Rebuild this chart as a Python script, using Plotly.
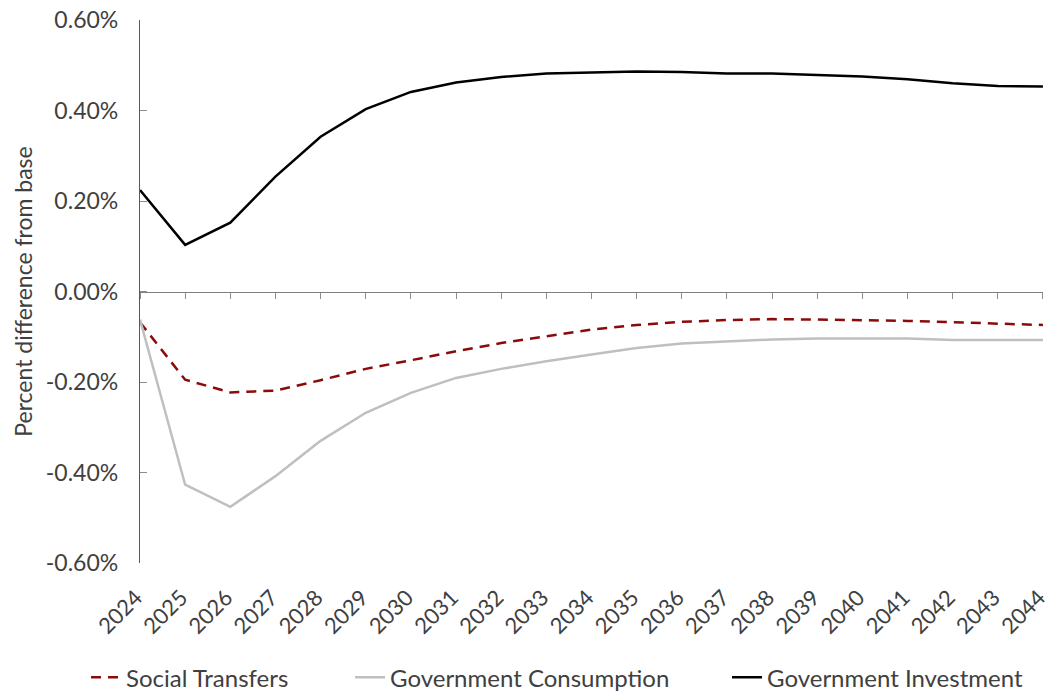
import plotly.graph_objects as go

years = list(range(2024, 2045))

social_transfers = [-0.068, -0.195, -0.223, -0.219, -0.196, -0.171, -0.152, -0.132,
                    -0.114, -0.099, -0.084, -0.074, -0.067, -0.063, -0.061, -0.062,
                    -0.063, -0.065, -0.068, -0.071, -0.074]
gov_consumption = [-0.062, -0.427, -0.476, -0.408, -0.330, -0.268, -0.224, -0.191,
                   -0.171, -0.154, -0.139, -0.125, -0.115, -0.110, -0.106, -0.104,
                   -0.104, -0.104, -0.107, -0.107, -0.107]
gov_investment = [0.224, 0.103, 0.152, 0.254, 0.342, 0.403, 0.441, 0.462,
                  0.474, 0.482, 0.484, 0.486, 0.485, 0.482, 0.482, 0.478,
                  0.475, 0.469, 0.460, 0.454, 0.453]

y_ticks = [0.6, 0.4, 0.2, 0.0, -0.2, -0.4, -0.6]
y_tick_text = ["0.60%", "0.40%", "0.20%", "0.00%", "-0.20%", "-0.40%", "-0.60%"]

FONT = "Lato, 'Open Sans', sans-serif"
TEXT = "#404040"
X_RANGE = [2024, 2044.001]


def legend_box(x_px):
    # one legend entry per box, placed along the bottom of the figure
    return dict(orientation="h", xref="container", yref="container",
                x=x_px / 1050, y=0.022, xanchor="left", yanchor="middle",
                font=dict(size=24, color=TEXT), bgcolor="rgba(0,0,0,0)")


fig = go.Figure()
fig.add_trace(go.Scatter(x=years, y=social_transfers, mode="lines", name="Social Transfers",
                         line=dict(color="#8B0A0A", width=2.5, dash="10px,7px"),
                         legend="legend"))
fig.add_trace(go.Scatter(x=years, y=gov_consumption, mode="lines", name="Government Consumption",
                         line=dict(color="#BFBFBF", width=2.5), legend="legend2"))
fig.add_trace(go.Scatter(x=years, y=gov_investment, mode="lines", name="Government Investment",
                         line=dict(color="#000000", width=2.5), xaxis="x2", legend="legend3"))

fig.update_layout(
    width=1050, height=693,
    paper_bgcolor="white", plot_bgcolor="white",
    margin=dict(l=140, r=7, t=20, b=130, autoexpand=False),
    font=dict(family=FONT, color=TEXT, size=22),
    showlegend=True,
    legend=legend_box(86),
    legend2=legend_box(350),
    legend3=legend_box(727),
    xaxis=dict(range=X_RANGE, tickmode="array", tickvals=years,
               ticktext=[str(y) for y in years], tickangle=-45,
               ticklabeloverflow="allow", automargin=False, ticklabelshift=-4,
               showline=False, showgrid=False, zeroline=False,
               ticks="outside", ticklen=12, tickcolor="rgba(0,0,0,0)",
               tickfont=dict(size=22, color=TEXT)),
    xaxis2=dict(range=X_RANGE, overlaying="x", anchor="free", position=0.5,
                side="bottom", tickmode="array", tickvals=years,
                showticklabels=False, showline=True, linecolor="#7f7f7f", linewidth=1.3,
                ticks="outside", ticklen=6, tickcolor="#8c8c8c", tickwidth=1.3,
                showgrid=False, zeroline=False, automargin=False),
    yaxis=dict(range=[-0.6, 0.6], tickmode="array", tickvals=y_ticks, ticktext=y_tick_text,
               showline=True, linecolor="#595959", linewidth=1.3,
               ticks="inside", ticklen=7, tickcolor="#8c8c8c", tickwidth=1.3,
               ticklabelstandoff=16, automargin=False,
               showgrid=False, zeroline=False,
               tickfont=dict(size=23, color=TEXT),
               title=dict(text="Percent difference from base", font=dict(size=23, color=TEXT),
                          standoff=6)),
)

fig.write_html("out.html")
